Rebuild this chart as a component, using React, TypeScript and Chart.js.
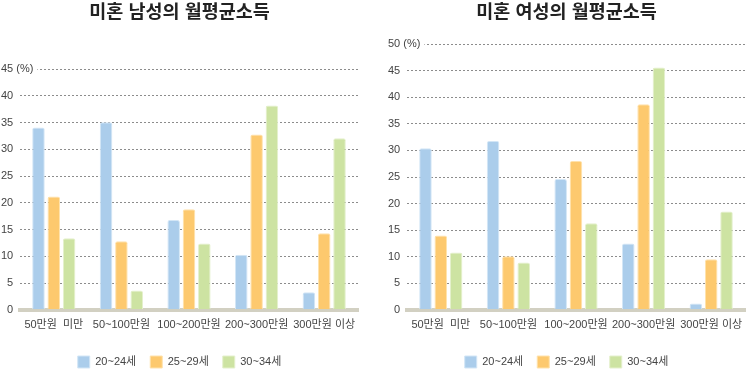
import React, { useEffect, useRef } from "react";
import { Chart, registerables } from "chart.js";

Chart.register(...registerables);

const categories = ["50만원  미만", "50~100만원", "100~200만원", "200~300만원", "300만원 이상"];
const seriesLabels = ["20~24세", "25~29세", "30~34세"];

const male20to24 = [34.1, 35.1, 16.8, 10.3, 3.3];
const male25to29 = [21.2, 12.8, 18.8, 32.8, 14.3];
const male30to34 = [13.4, 3.6, 12.4, 38.2, 32.1];

const female20to24 = [30.4, 31.8, 24.6, 12.5, 1.2];
const female25to29 = [14.0, 10.1, 28.0, 38.7, 9.5];
const female30to34 = [10.8, 8.9, 16.3, 45.6, 18.5];

const maleTitle = "미혼 남성의 월평균소득";
const femaleTitle = "미혼 여성의 월평균소득";
const maleMax = 45;
const femaleMax = 50;
const tickStep = 5;

const fillColors = ["#abcdeb", "#fdc96e", "#cde3a2"];
const edgeColors = ["#d3e6f6", "#ffe2ac", "#e4f0cc"];

const FONT = '"Liberation Sans", "Noto Sans CJK KR", sans-serif';

type Props = { title: string; series: number[][]; max: number; titleGap: number };

function BarPanel({ title, series, max, titleGap }: Props) {
  const ref = useRef<HTMLCanvasElement | null>(null);
  useEffect(() => {
    if (!ref.current) return;
    const chart = new Chart(ref.current, {
      type: "bar",
      data: {
        labels: categories,
        datasets: series.map((d, i) => ({
          label: seriesLabels[i],
          data: d,
          backgroundColor: fillColors[i],
          borderColor: edgeColors[i],
          borderWidth: 1,
          borderRadius: { topLeft: 2, topRight: 2, bottomLeft: 0, bottomRight: 0 },
          borderSkipped: "bottom",
          categoryPercentage: 0.68,
          barPercentage: 0.82,
        })),
      },
      options: {
        responsive: false,
        animation: false,
        layout: { padding: { left: 1, right: 5, top: 0, bottom: 0 } },
        plugins: {
          title: {
            display: true,
            text: title,
            color: "#222",
            font: { family: FONT, size: 18.5, weight: "bold" },
            padding: { top: 2, bottom: titleGap },
          },
          legend: {
            position: "bottom",
            labels: {
              boxWidth: 12,
              boxHeight: 12,
              padding: 14,
              color: "#444",
              font: { family: FONT, size: 11 },
            },
          },
          tooltip: { enabled: false },
        },
        scales: {
          x: {
            grid: { display: false },
            border: { display: true, color: "#d2d0c2", width: 4 },
            title: {
              display: true,
              text: "",
              font: { size: 1, lineHeight: 1 },
              padding: { top: 8, bottom: 0 },
            },
            ticks: { color: "#444", font: { family: FONT, size: 11 }, padding: 1, maxRotation: 0, autoSkip: false },
          },
          y: {
            min: 0,
            max: max,
            afterFit: (scale: any) => {
              scale.width = 19;
            },
            grid: {
              color: (ctx: any) => (ctx.index === 0 ? "#7a7a7a" : "#8c8c8c"),
              lineWidth: 1,
              drawTicks: false,
            },
            border: {
              display: false,
              dash: (ctx: any) => (ctx.index === 0 ? [] : [2, 2]),
            },
            ticks: {
              stepSize: tickStep,
              mirror: true,
              crossAlign: "near",
              padding: -19,
              color: "#444",
              font: { family: FONT, size: 11 },
              showLabelBackdrop: true,
              backdropColor: (ctx: any) => (ctx.tick && ctx.tick.value === max ? "#ffffff" : "rgba(0,0,0,0)"),
              backdropPadding: { top: 0, bottom: 0, left: 0, right: 4 },
              callback: (v: any) => {
                const n = Number(v);
                if (n === max) return `${n} (%)`;
                return n < 10 ? `\u2007${n}` : `${n}`;
              },
            },
          },
        },
      },
    } as any);
    return () => chart.destroy();
  }, [title, series, max, titleGap]);
  return <canvas ref={ref} width={363} height={378} style={{ display: "block" }} />;
}

export default function App() {
  return (
    <div style={{ position: "absolute", left: 0, top: 0, width: 750, height: 369, overflow: "hidden", background: "#fff" }}>
      <div style={{ position: "absolute", left: 0, top: 0 }}>
        <BarPanel title={maleTitle} series={[male20to24, male25to29, male30to34]} max={maleMax} titleGap={45} />
      </div>
      <div style={{ position: "absolute", left: 387, top: 0 }}>
        <BarPanel title={femaleTitle} series={[female20to24, female25to29, female30to34]} max={femaleMax} titleGap={20} />
      </div>
    </div>
  );
}
